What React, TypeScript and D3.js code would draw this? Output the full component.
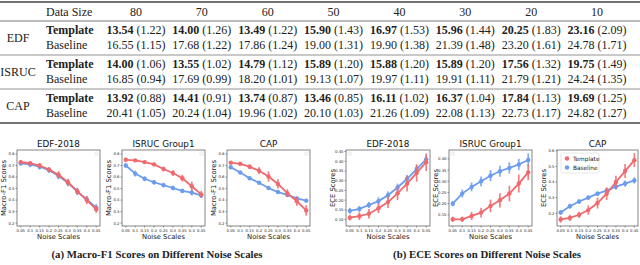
import * as d3 from "d3";

// ---- table data ----
const dataSizes = ["80", "70", "60", "50", "40", "30", "20", "10"];
const datasets = ["EDF", "ISRUC", "CAP"];
const edfTemplateMean = [13.54, 14.0, 13.49, 15.9, 16.97, 15.96, 20.25, 23.16];
const edfTemplateSd = [1.22, 1.26, 1.22, 1.43, 1.53, 1.44, 1.83, 2.09];
const edfBaselineMean = [16.55, 17.68, 17.86, 19.0, 19.9, 21.39, 23.2, 24.78];
const edfBaselineSd = [1.15, 1.22, 1.24, 1.31, 1.38, 1.48, 1.61, 1.71];
const isrucTemplateMean = [14.0, 13.55, 14.79, 15.89, 15.88, 15.89, 17.56, 19.75];
const isrucTemplateSd = [1.06, 1.02, 1.12, 1.2, 1.2, 1.2, 1.32, 1.49];
const isrucBaselineMean = [16.85, 17.69, 18.2, 19.13, 19.97, 19.91, 21.79, 24.24];
const isrucBaselineSd = [0.94, 0.99, 1.01, 1.07, 1.11, 1.11, 1.21, 1.35];
const capTemplateMean = [13.92, 14.41, 13.74, 13.46, 16.11, 16.37, 17.84, 19.69];
const capTemplateSd = [0.88, 0.91, 0.87, 0.85, 1.02, 1.04, 1.13, 1.25];
const capBaselineMean = [20.41, 20.24, 19.96, 20.1, 21.26, 22.08, 22.73, 24.82];
const capBaselineSd = [1.05, 1.04, 1.02, 1.03, 1.09, 1.13, 1.17, 1.27];

// ---- chart data ----
const noiseScales = [0.05, 0.1, 0.15, 0.2, 0.25, 0.3, 0.35, 0.4, 0.45];
const noiseTickLabels = ["0.05", "0.1", "0.15", "0.2", "0.25", "0.3", "0.35", "0.4", "0.45"];
const seriesNames = ["Template", "Baseline"];

const f1EdfTemplate = [0.73, 0.72, 0.7, 0.665, 0.62, 0.555, 0.475, 0.4, 0.32];
const f1EdfTemplateErr = [0.015, 0.015, 0.02, 0.02, 0.03, 0.03, 0.03, 0.035, 0.03];
const f1EdfBaseline = [0.72, 0.71, 0.69, 0.66, 0.61, 0.55, 0.475, 0.405, 0.335];
const f1EdfBaselineErr = [0.02, 0.025, 0.025, 0.025, 0.03, 0.03, 0.03, 0.03, 0.03];

const f1IsrucTemplate = [0.75, 0.745, 0.73, 0.71, 0.67, 0.635, 0.59, 0.52, 0.45];
const f1IsrucTemplateErr = [0.01, 0.01, 0.015, 0.015, 0.02, 0.025, 0.03, 0.04, 0.03];
const f1IsrucBaseline = [0.7, 0.63, 0.585, 0.555, 0.53, 0.505, 0.48, 0.465, 0.44];
const f1IsrucBaselineErr = [0.02, 0.025, 0.02, 0.02, 0.02, 0.02, 0.02, 0.025, 0.02];

const f1CapTemplate = [0.725, 0.715, 0.69, 0.655, 0.605, 0.54, 0.46, 0.39, 0.31];
const f1CapTemplateErr = [0.015, 0.015, 0.02, 0.03, 0.045, 0.04, 0.035, 0.04, 0.045];
const f1CapBaseline = [0.685, 0.64, 0.59, 0.55, 0.505, 0.47, 0.445, 0.415, 0.395];
const f1CapBaselineErr = [0.012, 0.012, 0.012, 0.012, 0.01, 0.01, 0.01, 0.01, 0.012];

const eceEdfTemplate = [0.11, 0.118, 0.13, 0.158, 0.19, 0.235, 0.285, 0.34, 0.395];
const eceEdfTemplateErr = [0.015, 0.02, 0.025, 0.025, 0.03, 0.035, 0.04, 0.045, 0.045];
const eceEdfBaseline = [0.145, 0.155, 0.175, 0.195, 0.225, 0.265, 0.31, 0.36, 0.41];
const eceEdfBaselineErr = [0.015, 0.015, 0.015, 0.02, 0.02, 0.02, 0.02, 0.02, 0.02];

const eceIsrucTemplate = [0.13, 0.13, 0.145, 0.16, 0.19, 0.215, 0.245, 0.29, 0.34];
const eceIsrucTemplateErr = [0.012, 0.012, 0.018, 0.022, 0.028, 0.032, 0.035, 0.04, 0.035];
const eceIsrucBaseline = [0.2, 0.245, 0.275, 0.3, 0.325, 0.345, 0.36, 0.375, 0.395];
const eceIsrucBaselineErr = [0.012, 0.018, 0.02, 0.022, 0.025, 0.025, 0.025, 0.025, 0.03];

const eceCapTemplate = [0.16, 0.17, 0.19, 0.22, 0.265, 0.325, 0.4, 0.47, 0.54];
const eceCapTemplateErr = [0.02, 0.02, 0.02, 0.03, 0.035, 0.04, 0.04, 0.045, 0.045];
const eceCapBaseline = [0.205, 0.245, 0.275, 0.3, 0.325, 0.345, 0.37, 0.39, 0.41];
const eceCapBaselineErr = [0.015, 0.015, 0.015, 0.015, 0.015, 0.015, 0.02, 0.02, 0.02];

const RED = "#f0696c";
const BLUE = "#6c9cf0";
const SERIF = "'Liberation Serif', 'DejaVu Serif', serif";
const SANS = "'DejaVu Sans', sans-serif";

const fmt2 = d3.format(".2f");

function Table() {
  const col = d3.scalePoint<string>().domain(dataSizes).range([136, 597]);
  const blocks = [
    { name: datasets[0], rows: [[edfTemplateMean, edfTemplateSd], [edfBaselineMean, edfBaselineSd]] },
    { name: datasets[1], rows: [[isrucTemplateMean, isrucTemplateSd], [isrucBaselineMean, isrucBaselineSd]] },
    { name: datasets[2], rows: [[capTemplateMean, capTemplateSd], [capBaselineMean, capBaselineSd]] },
  ];
  return (
    <g fontFamily={SERIF} fontSize={12} fill="#222">
      <line x1={0} x2={640} y1={2} y2={2} stroke="#444" strokeWidth={1.6} />
      <text x={46} y={16}>Data Size</text>
      {dataSizes.map((d) => (
        <text key={d} x={col(d)} y={16} textAnchor="middle">{d}</text>
      ))}
      <line x1={0} x2={640} y1={21} y2={21} stroke="#666" strokeWidth={0.9} />
      {blocks.map((b, bi) => {
        const top = 21 + bi * 34;
        return (
          <g key={b.name}>
            <text x={18} y={top + 21} textAnchor="middle">{b.name}</text>
            {b.rows.map(([mean, sd], ri) => {
              const yy = top + 13 + ri * 15;
              return (
                <g key={ri}>
                  <text x={46} y={yy} fontWeight={ri === 0 ? "bold" : "normal"}>{seriesNames[ri]}</text>
                  {dataSizes.map((d, i) => (
                    <text key={d} x={col(d)} y={yy} textAnchor="middle">
                      <tspan fontWeight={ri === 0 ? "bold" : "normal"}>{fmt2(mean[i])}</tspan>
                      <tspan> ({fmt2(sd[i])})</tspan>
                    </text>
                  ))}
                </g>
              );
            })}
            {bi < 2 && (
              <line x1={0} x2={640} y1={top + 34} y2={top + 34} stroke="#777" strokeWidth={0.8} />
            )}
          </g>
        );
      })}
      <line x1={0} x2={640} y1={123} y2={123} stroke="#444" strokeWidth={1.6} />
    </g>
  );
}

interface PanelCfg {
  title: string;
  ylabel: string;
  yDomain: [number, number];
  yTicks: number[];
  yFmt: (v: number) => string;
  template: number[];
  templateErr: number[];
  baseline: number[];
  baselineErr: number[];
  legend: boolean;
  boxCorner: "left" | "right";
}

const f1Ticks = [0.2, 0.3, 0.4, 0.5, 0.6, 0.7, 0.8];
const panels: PanelCfg[] = [
  { title: "EDF-2018", ylabel: "Macro-F1 Scores", yDomain: [0.175, 0.835], yTicks: f1Ticks, yFmt: d3.format(".1f"),
    template: f1EdfTemplate, templateErr: f1EdfTemplateErr, baseline: f1EdfBaseline, baselineErr: f1EdfBaselineErr, legend: false, boxCorner: "right" },
  { title: "ISRUC Group1", ylabel: "Macro-F1 Scores", yDomain: [0.175, 0.835], yTicks: f1Ticks, yFmt: d3.format(".1f"),
    template: f1IsrucTemplate, templateErr: f1IsrucTemplateErr, baseline: f1IsrucBaseline, baselineErr: f1IsrucBaselineErr, legend: false, boxCorner: "right" },
  { title: "CAP", ylabel: "Macro-F1 Scores", yDomain: [0.175, 0.835], yTicks: f1Ticks, yFmt: d3.format(".1f"),
    template: f1CapTemplate, templateErr: f1CapTemplateErr, baseline: f1CapBaseline, baselineErr: f1CapBaselineErr, legend: false, boxCorner: "right" },
  { title: "EDF-2018", ylabel: "ECE Scores", yDomain: [0.067, 0.458], yTicks: [0.1, 0.15, 0.2, 0.25, 0.3, 0.35, 0.4, 0.45], yFmt: d3.format(".2f"),
    template: eceEdfTemplate, templateErr: eceEdfTemplateErr, baseline: eceEdfBaseline, baselineErr: eceEdfBaselineErr, legend: false, boxCorner: "left" },
  { title: "ISRUC Group1", ylabel: "ECE Scores", yDomain: [0.1, 0.44], yTicks: [0.15, 0.2, 0.25, 0.3, 0.35, 0.4], yFmt: d3.format(".2f"),
    template: eceIsrucTemplate, templateErr: eceIsrucTemplateErr, baseline: eceIsrucBaseline, baselineErr: eceIsrucBaselineErr, legend: false, boxCorner: "left" },
  { title: "CAP", ylabel: "ECE Scores", yDomain: [0.118, 0.605], yTicks: [0.2, 0.3, 0.4, 0.5, 0.6], yFmt: d3.format(".1f"),
    template: eceCapTemplate, templateErr: eceCapTemplateErr, baseline: eceCapBaseline, baselineErr: eceCapBaselineErr, legend: true, boxCorner: "left" },
];

const frames = [[17, 100], [122, 205], [227, 310], [346, 430], [449, 532], [557, 638]];

function Panel({ cfg, x0, x1 }: { cfg: PanelCfg; x0: number; x1: number }) {
  const top = 150;
  const bottom = 226;
  const x = d3.scaleLinear().domain([0.03, 0.47]).range([x0, x1]);
  const y = d3.scaleLinear().domain(cfg.yDomain).range([bottom, top]);
  const line = d3
    .line<number>()
    .x((_, i) => x(noiseScales[i]))
    .y((d) => y(d));

  const series = [
    { vals: cfg.baseline, err: cfg.baselineErr, color: BLUE },
    { vals: cfg.template, err: cfg.templateErr, color: RED },
  ];

  return (
    <g fontFamily={SANS}>
      <text x={(x0 + x1) / 2} y={top - 3} textAnchor="middle" fontSize={8.8} fill="#111">{cfg.title}</text>
      <text
        transform={`translate(${x0 - 11},${(top + bottom) / 2}) rotate(-90)`}
        textAnchor="middle"
        fontSize={6.8}
        fill="#111"
      >
        {cfg.ylabel}
      </text>
      {cfg.yTicks.map((t) => (
        <g key={t}>
          <line x1={x0 - 1.5} x2={x0} y1={y(t)} y2={y(t)} stroke="#333" strokeWidth={0.5} />
          <text x={x0 - 2.5} y={y(t) + 1.4} textAnchor="end" fontSize={3.8} fill="#222">{cfg.yFmt(t)}</text>
        </g>
      ))}
      {noiseScales.map((n, i) => (
        <g key={n}>
          <line x1={x(n)} x2={x(n)} y1={bottom} y2={bottom + 1.5} stroke="#333" strokeWidth={0.5} />
          <text x={x(n)} y={bottom + 5.5} textAnchor="middle" fontSize={3.8} fill="#222">{noiseTickLabels[i]}</text>
        </g>
      ))}
      <text x={(x0 + x1) / 2} y={bottom + 13} textAnchor="middle" fontSize={6.8} fill="#111">Noise Scales</text>
      {series.map((s, si) => (
        <g key={si}>
          <path d={line(s.vals) ?? ""} fill="none" stroke={s.color} strokeWidth={1.8} />
          {s.vals.map((v, i) => (
            <g key={i}>
              <line
                x1={x(noiseScales[i])}
                x2={x(noiseScales[i])}
                y1={y(v - s.err[i])}
                y2={y(v + s.err[i])}
                stroke={s.color}
                strokeWidth={1.7}
                opacity={0.85}
              />
              <circle cx={x(noiseScales[i])} cy={y(v)} r={2.2} fill={s.color} />
            </g>
          ))}
        </g>
      ))}
      <rect x={x0} y={top} width={x1 - x0} height={bottom - top} fill="none" stroke="#333" strokeWidth={0.6} />
      {cfg.legend ? (
        <g>
          <rect x={x0 + 4} y={top + 3} width={38} height={20} rx={1.5} fill="#fff" fillOpacity={0.85} stroke="#ccc" strokeWidth={0.5} />
          {seriesNames.map((n, i) => (
            <g key={n}>
              <circle cx={x0 + 10} cy={top + 8.5 + i * 9} r={2.2} fill={i === 0 ? RED : BLUE} />
              <text x={x0 + 16} y={top + 10.5 + i * 9} fontSize={5.8} fill="#222">{n}</text>
            </g>
          ))}
        </g>
      ) : (
        <rect
          x={cfg.boxCorner === "right" ? x1 - 5 : x0 + 2}
          y={top + 2}
          width={3}
          height={3}
          fill="#fff"
          stroke="#ccc"
          strokeWidth={0.4}
        />
      )}
    </g>
  );
}

export default function App() {
  return (
    <svg
      width={640}
      height={265}
      viewBox="0 0 640 265"
      style={{ position: "absolute", left: 0, top: 0, background: "#fff" }}
    >
      <Table />
      {panels.map((p, i) => (
        <Panel key={i} cfg={p} x0={frames[i][0]} x1={frames[i][1]} />
      ))}
      <g fontFamily={SERIF} fontSize={10.8} fontWeight="bold" fill="#222">
        <text x={157} y={258} textAnchor="middle">(a) Macro-F1 Scores on Different Noise Scales</text>
        <text x={487} y={258} textAnchor="middle">(b) ECE Scores on Different Noise Scales</text>
      </g>
    </svg>
  );
}
